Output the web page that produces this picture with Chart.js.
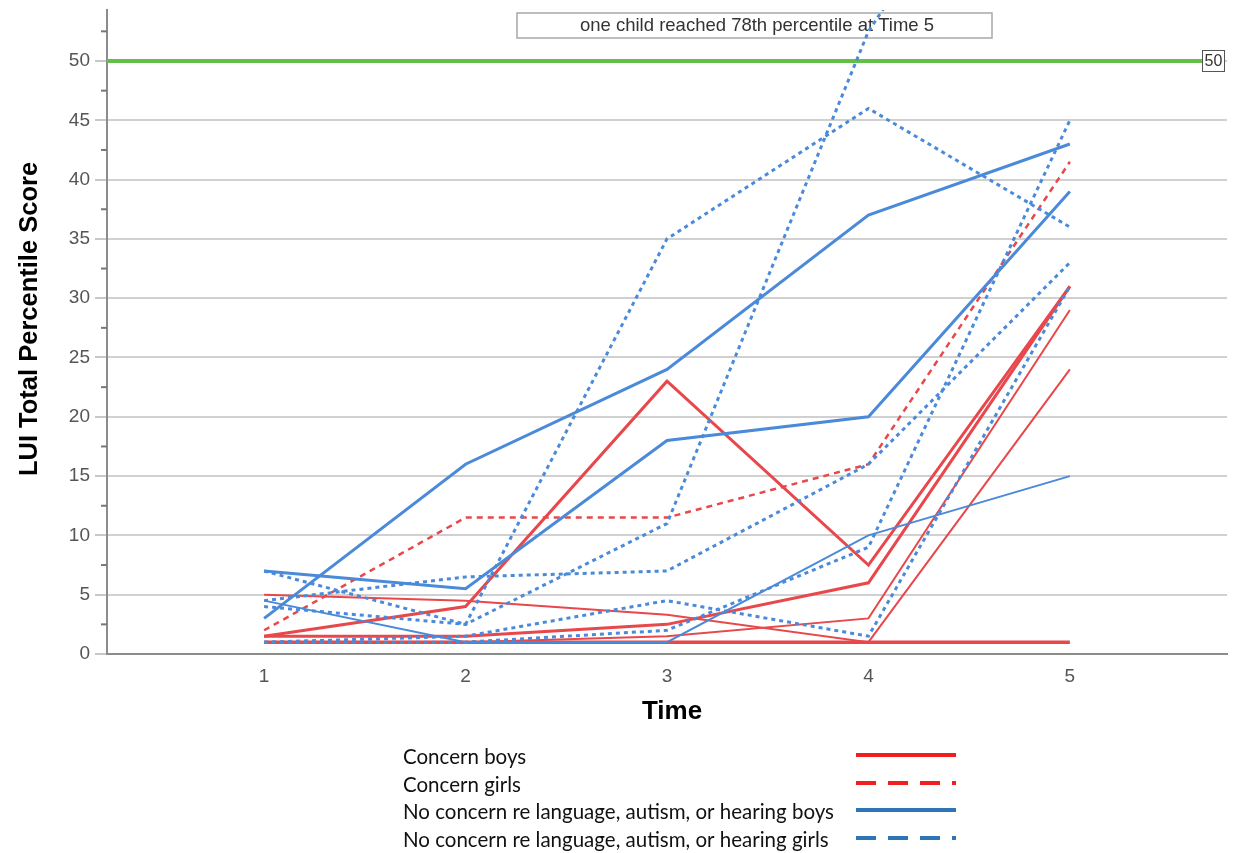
<!DOCTYPE html>
<html>
<head>
<meta charset="utf-8">
<script src="https://cdn.jsdelivr.net/npm/chart.js@4.4.1/dist/chart.umd.min.js"></script>
<style>
  html, body { margin: 0; padding: 0; background: #fff; }
  #wrap { width: 1238px; height: 853px; }
</style>
</head>
<body>
<div id="wrap"><canvas id="chart" width="1238" height="853"></canvas></div>
<script>
// time points on the x axis
const times = [1, 2, 3, 4, 5];

// LUI percentile per child, one array per child, values at times 1..5
const concernBoys = [
  [1.5, 4, 23, 7.5, 31],
  [5, 4.5, 3.3, 1, 24],
  [1.5, 1.5, 2.5, 6, 31],
  [1, 1, 1.5, 3, 29],
  [1, 1, 1, 1, 1]
];
const concernBoysWidths = [3, 2, 3, 2, 3.5];

const concernGirls = [
  [2, 11.5, 11.5, 16, 41.5]
];

const noConcernBoys = [
  [3, 16, 24, 37, 43],
  [7, 5.5, 18, 20, 39],
  [4.5, 1, 1, 10, 15]
];
const noConcernBoysWidths = [3, 3, 2];

const noConcernGirls = [
  [7, 2.5, 35, 46, 36],
  [4, 2.5, 11, 52.5, 78],
  [4.5, 6.5, 7, 16, 33],
  [1, 1.5, 4.5, 1.5, 31],
  [1, 1, 2, 9, 45]
];

const yTickValues = [0, 5, 10, 15, 20, 25, 30, 35, 40, 45, 50];
const yMinorValues = [2.5, 7.5, 12.5, 17.5, 22.5, 27.5, 32.5, 37.5, 42.5, 47.5, 52.5];
const refLine = 50;
const noteText = 'one child reached 78th percentile at Time 5';
const legendLabels = [
  'Concern boys',
  'Concern girls',
  'No concern re language, autism, or hearing boys',
  'No concern re language, autism, or hearing girls'
];

const RED = '#e8474b';
const BLUE = '#4a8ad9';
const GREEN = '#63bf46';

function toPoints(arr) {
  return arr.map((v, i) => ({ x: times[i], y: v }));
}

const datasets = [];
noConcernGirls.forEach(d => datasets.push({
  data: toPoints(d), borderColor: BLUE, borderWidth: 3, borderDash: [4, 4]
}));
noConcernBoys.forEach((d, i) => datasets.push({
  data: toPoints(d), borderColor: BLUE, borderWidth: noConcernBoysWidths[i]
}));
concernGirls.forEach(d => datasets.push({
  data: toPoints(d), borderColor: RED, borderWidth: 2.5, borderDash: [6, 5]
}));
concernBoys.forEach((d, i) => datasets.push({
  data: toPoints(d), borderColor: RED, borderWidth: concernBoysWidths[i]
}));

// reference line, note box, axis titles, legend
const extras = {
  id: 'extras',
  beforeDatasetsDraw(chart) {
    const { ctx, chartArea, scales } = chart;
    const y50 = scales.y.getPixelForValue(refLine);
    ctx.save();
    ctx.strokeStyle = GREEN;
    ctx.lineWidth = 4;
    ctx.beginPath();
    ctx.moveTo(chartArea.left, y50);
    ctx.lineTo(1202, y50);
    ctx.stroke();

    // "50" label box
    ctx.fillStyle = '#fff';
    ctx.fillRect(1202, y50 - 11, 23, 22);
    ctx.strokeStyle = '#555';
    ctx.lineWidth = 1;
    ctx.strokeRect(1202.5, y50 - 10.5, 22, 21);
    ctx.fillStyle = '#333';
    ctx.font = '16px "Liberation Sans", Arial, sans-serif';
    ctx.textAlign = 'center';
    ctx.textBaseline = 'middle';
    ctx.fillText(String(refLine), 1213.5, y50 + 1);

    // note box
    ctx.fillStyle = '#fff';
    ctx.fillRect(517, 13, 475, 25);
    ctx.strokeStyle = '#a8a8a8';
    ctx.lineWidth = 1.5;
    ctx.strokeRect(517, 13, 475, 25);
    ctx.fillStyle = '#333';
    ctx.font = '18.5px "Liberation Sans", Arial, sans-serif';
    ctx.fillText(noteText, 757, 26);
    ctx.restore();
  },
  afterDraw(chart) {
    const { ctx, chartArea, scales } = chart;
    ctx.save();
    // minor ticks on y axis
    ctx.strokeStyle = '#777';
    ctx.lineWidth = 2;
    yMinorValues.forEach(v => {
      const p = scales.y.getPixelForValue(v);
      if (p < chartArea.top) return;
      ctx.beginPath();
      ctx.moveTo(chartArea.left - 6, p);
      ctx.lineTo(chartArea.left, p);
      ctx.stroke();
    });

    // axis titles
    ctx.fillStyle = '#000';
    ctx.font = 'bold 25.5px "Liberation Sans", Arial, sans-serif';
    ctx.textAlign = 'center';
    ctx.textBaseline = 'middle';
    ctx.save();
    ctx.translate(30, 319);
    ctx.rotate(-Math.PI / 2);
    ctx.fillText('LUI Total Percentile Score', 0, 0);
    ctx.restore();
    ctx.font = 'bold 26px "Liberation Sans", Arial, sans-serif';
    ctx.fillText('Time', 672, 712);

    // legend
    const rows = [757, 785, 812, 840];
    const styles = [
      { color: '#f01e1e', dash: [] },
      { color: '#f01e1e', dash: [20, 12] },
      { color: '#2e75b6', dash: [] },
      { color: '#2e75b6', dash: [20, 12] }
    ];
    ctx.textAlign = 'left';
    ctx.font = '20.5px Lato, "Open Sans", sans-serif';
    legendLabels.forEach((label, i) => {
      ctx.fillStyle = '#111';
      ctx.fillText(label, 403, rows[i]);
      ctx.strokeStyle = styles[i].color;
      ctx.lineWidth = 4;
      ctx.setLineDash(styles[i].dash);
      ctx.beginPath();
      ctx.moveTo(856, rows[i] - 2);
      ctx.lineTo(956, rows[i] - 2);
      ctx.stroke();
      ctx.setLineDash([]);
    });
    ctx.restore();
  }
};

new Chart(document.getElementById('chart'), {
  type: 'line',
  data: { datasets },
  options: {
    responsive: false,
    animation: false,
    layout: { padding: { top: 10, right: 11, left: 0, bottom: 0 } },
    elements: {
      point: { radius: 0, hoverRadius: 0 },
      line: { tension: 0, borderCapStyle: 'butt', borderJoinStyle: 'miter' }
    },
    plugins: {
      legend: { display: false },
      tooltip: { enabled: false }
    },
    scales: {
      x: {
        type: 'linear',
        min: 0.22,
        max: 5.78,
        afterBuildTicks: s => { s.ticks = times.map(v => ({ value: v })); },
        afterFit: s => { s.height = 199; s.paddingLeft = 0; s.paddingRight = 0; },
        grid: { display: false, drawTicks: false },
        border: { display: true, color: '#8c8c8c', width: 2 },
        ticks: {
          color: '#555',
          padding: 11,
          font: { family: '"Liberation Sans", Arial, sans-serif', size: 19 },
          callback: v => String(v)
        }
      },
      y: {
        min: 0,
        max: 54.3,
        afterBuildTicks: s => { s.ticks = yTickValues.map(v => ({ value: v })); },
        afterFit: s => { s.width = 107; s.paddingTop = 0; s.paddingBottom = 0; },
        grid: { color: '#d0d0d0', lineWidth: 2, tickLength: 12, tickColor: '#c8c8c8' },
        border: { display: true, color: '#8c8c8c', width: 2 },
        ticks: {
          color: '#555',
          padding: 5,
          font: { family: '"Liberation Sans", Arial, sans-serif', size: 19 },
          callback: v => String(v)
        }
      }
    }
  },
  plugins: [extras]
});
</script>
</body>
</html>
